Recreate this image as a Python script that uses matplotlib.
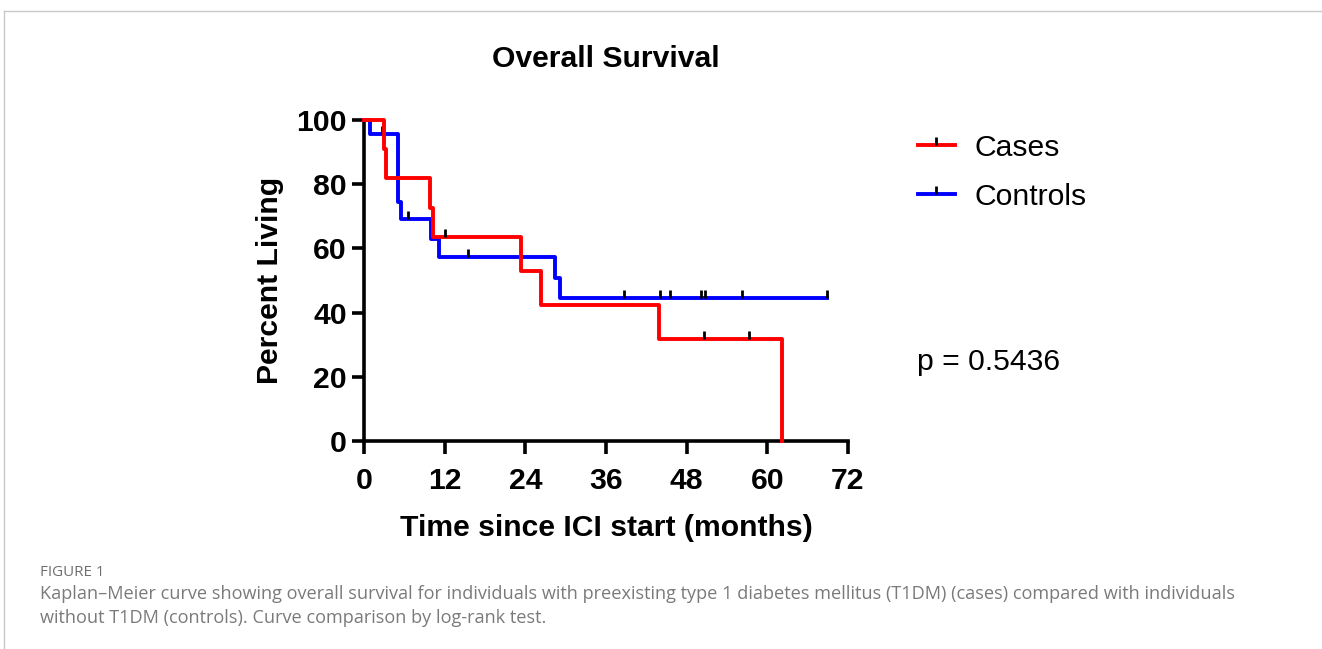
import matplotlib
matplotlib.use("Agg")
import matplotlib.pyplot as plt
from matplotlib.lines import Line2D
from matplotlib.path import Path

# ---------------- data ----------------
cases_time = [0, 3.0, 3.3, 9.8, 10.2, 23.4, 26.4, 43.9, 62.2]
cases_surv = [100, 90.9, 81.8, 72.7, 63.6, 53.0, 42.4, 31.8, 0]
cases_cens_time = [12.05, 50.6, 57.3]
cases_cens_surv = [63.6, 31.8, 31.8]

ctrl_time = [0, 0.9, 5.0, 5.5, 9.9, 11.1, 28.4, 29.1, 68.9]
ctrl_surv = [100, 95.5, 74.4, 69.1, 62.8, 57.2, 50.9, 44.5, 44.5]
ctrl_cens_time = [2.7, 6.6, 15.5, 38.7, 44.1, 45.5, 50.1, 50.7, 56.3, 68.9]
ctrl_cens_surv = [95.5, 69.1, 57.2, 44.5, 44.5, 44.5, 44.5, 44.5, 44.5, 44.5]

series_labels = ["Cases", "Controls"]
x_ticks = [0, 12, 24, 36, 48, 60, 72]
y_ticks = [0, 20, 40, 60, 80, 100]
p_text = "p = 0.5436"
title = "Overall Survival"
xlabel = "Time since ICI start (months)"
ylabel = "Percent Living"
caption_head = "FIGURE 1"
caption_lines = [
    "Kaplan\u2013Meier curve showing overall survival for individuals with preexisting type 1 diabetes mellitus (T1DM) (cases) compared with individuals",
    "without T1DM (controls). Curve comparison by log-rank test.",
]

# ---------------- style ----------------
W, H = 1322, 649
FS = 21.7
FONT = ["Liberation Sans", "DejaVu Sans"]
plt.rcParams["font.family"] = FONT

fig = plt.figure(figsize=(W / 100, H / 100), dpi=100)
ax = fig.add_axes([364 / W, 1 - 441 / H, (848 - 364) / W, (441 - 120) / H])

tick_path = Path([(0, 0), (0, 1)])
LW = 2.8
MS = 11
MEW = 2.0

ax.step(ctrl_time, ctrl_surv, where="post", color="#0000ff", lw=LW, clip_on=False, zorder=3)
ax.plot(ctrl_cens_time, ctrl_cens_surv, ls="none", marker=tick_path, ms=MS,
        mec="black", mew=MEW, clip_on=False, zorder=4)
ax.step(cases_time, cases_surv, where="post", color="#ff0000", lw=LW, clip_on=False, zorder=5)
ax.plot(cases_cens_time, cases_cens_surv, ls="none", marker=tick_path, ms=MS,
        mec="black", mew=MEW, clip_on=False, zorder=6)

ax.set_xlim(0, 72)
ax.set_ylim(0, 100)
ax.set_xticks(x_ticks)
ax.set_yticks(y_ticks)
for s in ["top", "right"]:
    ax.spines[s].set_visible(False)
for s in ["left", "bottom"]:
    ax.spines[s].set_linewidth(2.6)
ax.tick_params(axis="both", length=9, width=2.6, direction="out", labelsize=FS)
ax.tick_params(axis="x", pad=9.5)
ax.tick_params(axis="y", pad=3.5)
for lbl in ax.get_xticklabels() + ax.get_yticklabels():
    lbl.set_fontweight("bold")

ax.set_xlabel(xlabel, fontsize=FS, fontweight="bold", labelpad=14)
ax.set_ylabel(ylabel, fontsize=FS, fontweight="bold", labelpad=9)
fig.text(606 / W, 1 - 59 / H, title, fontsize=FS, fontweight="bold", ha="center", va="center")

handles = [
    Line2D([], [], color="#ff0000", lw=LW, marker=tick_path, ms=MS, mec="black", mew=MEW),
    Line2D([], [], color="#0000ff", lw=LW, marker=tick_path, ms=MS, mec="black", mew=MEW),
]
ax.legend(handles, series_labels, loc="upper left", bbox_to_anchor=(918 / W, 1 - 134 / H),
          bbox_transform=fig.transFigure, frameon=False, fontsize=FS, numpoints=1,
          handlelength=1.22, handletextpad=0.67, labelspacing=0.69, borderpad=0, borderaxespad=0)

fig.text(917 / W, 1 - 362 / H, p_text, fontsize=FS, ha="left", va="center")

# caption
fig.text(40 / W, 1 - 572 / H, caption_head, fontsize=10.9, color="#6e6e6e", ha="left", va="center",
         family=["Open Sans", "DejaVu Sans"])
for i, line in enumerate(caption_lines):
    fig.text(40 / W, 1 - (594 + 24 * i) / H, line, fontsize=13.1, color="#7a7a7a", ha="left",
             va="center", family=["Open Sans", "DejaVu Sans"])

# frame lines of the page
fig.add_artist(Line2D([4 / W, 1], [1 - 11 / H, 1 - 11 / H], transform=fig.transFigure,
                      color="#c8c8c8", lw=1))
fig.add_artist(Line2D([4 / W, 4 / W], [1 - 11 / H, 0], transform=fig.transFigure,
                      color="#c8c8c8", lw=1))

fig.savefig("out.png", dpi=100)
